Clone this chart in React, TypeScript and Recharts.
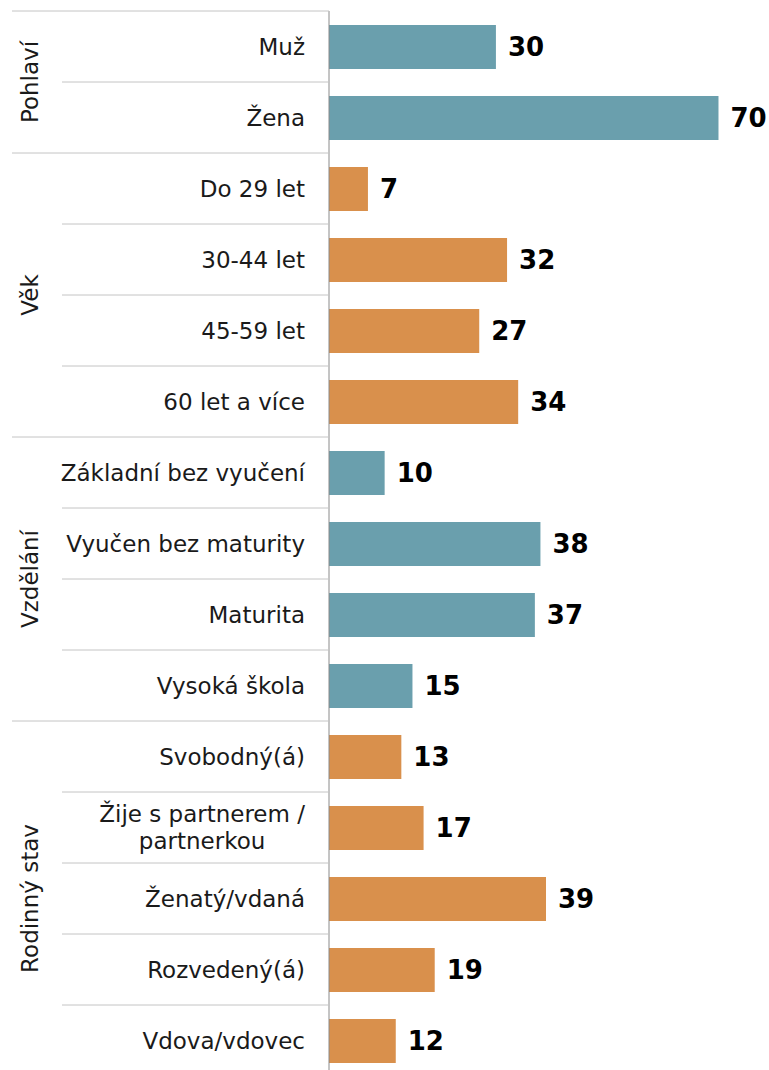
import * as React from "react";
import { Bar, BarChart, Cell, LabelList, XAxis, YAxis } from "recharts";

const categories = [
    "Muž",
    "Žena",
    "Do 29 let",
    "30-44 let",
    "45-59 let",
    "60 let a více",
    "Základní bez vyučení",
    "Vyučen bez maturity",
    "Maturita",
    "Vysoká škola",
    "Svobodný(á)",
    "Žije s partnerem / partnerkou",
    "Ženatý/vdaná",
    "Rozvedený(á)",
    "Vdova/vdovec",
];
const values = [30, 70, 7, 32, 27, 34, 10, 38, 37, 15, 13, 17, 39, 19, 12];
const groups = ["Pohlaví", "Věk", "Vzdělání", "Rodinný stav"];
const groupSizes = [2, 4, 4, 5];
const groupColors = ["#6A9FAD", "#D9904C", "#6A9FAD", "#D9904C"];

const FONT = "'DejaVu Sans', Verdana, sans-serif";
const FS = 23;
const WIDTH = 769;
const HEIGHT = 1076;
const MARGIN = { top: 11, right: 6, bottom: 0, left: 0 };
const AXIS_W = 329;
const BAND = (HEIGHT - MARGIN.top - MARGIN.bottom) / categories.length;

// group index and first-in-group flag for each category
const groupOf: number[] = [];
const groupStart: boolean[] = [];
groupSizes.forEach((n, g) => {
    for (let i = 0; i < n; i++) {
        groupOf.push(g);
        groupStart.push(i === 0);
    }
});

const data = categories.map((name, i) => ({ name, value: values[i], group: groupOf[i] }));

let ctx: CanvasRenderingContext2D | null = null;
const measure = (s: string, font: string) => {
    if (!ctx) ctx = document.createElement("canvas").getContext("2d");
    if (!ctx) return s.length * 11;
    ctx.font = font;
    return ctx.measureText(s).width;
};

const splitLabel = (s: string) => {
    const k = s.indexOf("/ ");
    return k > 0 ? [s.slice(0, k + 1), s.slice(k + 2)] : [s];
};

const CategoryTick = (props: any) => {
    const { y, payload, index } = props;
    const textRight = AXIS_W - 24;
    const top = y - BAND / 2;
    const i = index ?? payload.index;
    const lines = splitLabel(String(payload.value));
    const isStart = groupStart[i];
    const g = groupOf[i];
    const widest = Math.max(...lines.map((l) => measure(l, `${FS}px ${FONT}`)));
    const cx = textRight - widest / 2;

    return (
        <g>
            <line
                x1={isStart ? 12 : 62}
                x2={AXIS_W}
                y1={top}
                y2={top}
                stroke="#c4c4c4"
                strokeWidth={1}
            />
            {lines.length === 1 ? (
                <text
                    x={textRight}
                    y={y}
                    textAnchor="end"
                    dominantBaseline="central"
                    fontFamily={FONT}
                    fontSize={FS}
                    fill="#1a1a1a"
                >
                    {lines[0]}
                </text>
            ) : (
                <text
                    x={cx}
                    y={y}
                    textAnchor="middle"
                    fontFamily={FONT}
                    fontSize={FS}
                    fill="#1a1a1a"
                >
                    {lines.map((l, k) => (
                        <tspan
                            key={k}
                            x={cx}
                            dy={k === 0 ? -13.5 : 27}
                            dominantBaseline="central"
                        >
                            {l}
                        </tspan>
                    ))}
                </text>
            )}
            {isStart && (
                <text
                    transform={`translate(30, ${top + (groupSizes[g] * BAND) / 2}) rotate(-90)`}
                    textAnchor="middle"
                    dominantBaseline="central"
                    fontFamily={FONT}
                    fontSize={FS}
                    fill="#1a1a1a"
                >
                    {groups[g]}
                </text>
            )}
        </g>
    );
};

export default function App() {
    return (
        <div style={{ width: WIDTH, height: 1070, overflow: "hidden" }}>
            <style>{"body{margin:0}"}</style>
            <BarChart
                width={WIDTH}
                height={HEIGHT}
                data={data}
                layout="vertical"
                margin={MARGIN}
            >
                <XAxis type="number" domain={[0, 78]} hide />
                <YAxis
                    type="category"
                    dataKey="name"
                    width={AXIS_W}
                    interval={0}
                    tickLine={false}
                    axisLine={{ stroke: "#8a8a8a", strokeWidth: 1 }}
                    tick={<CategoryTick />}
                />
                <Bar dataKey="value" barSize={44} isAnimationActive={false}>
                    {data.map((d, i) => (
                        <Cell key={i} fill={groupColors[d.group]} />
                    ))}
                    <LabelList
                        dataKey="value"
                        position="right"
                        offset={12}
                        fill="#000"
                        fontFamily={FONT}
                        fontSize={26}
                        fontWeight="bold"
                    />
                </Bar>
            </BarChart>
        </div>
    );
}
